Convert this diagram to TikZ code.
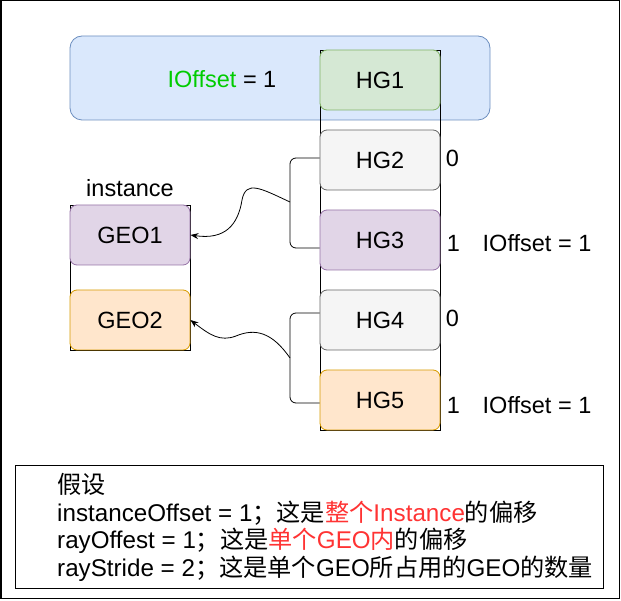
\documentclass[tikz,border=0pt]{standalone}
\usepackage{fontspec}
\setmainfont{Liberation Sans}
\newfontfamily\cjk{Noto Sans CJK SC}
\usetikzlibrary{arrows.meta}
\definecolor{bluefill}{HTML}{DAE8FC}\definecolor{bluedraw}{HTML}{6C8EBF}
\definecolor{greenfill}{HTML}{D5E8D4}\definecolor{greendraw}{HTML}{82B366}
\definecolor{greyfill}{HTML}{F5F5F5}\definecolor{greydraw}{HTML}{666666}
\definecolor{purplefill}{HTML}{E1D5E7}\definecolor{purpledraw}{HTML}{9673A6}
\definecolor{orangefill}{HTML}{FFE6CC}\definecolor{orangedraw}{HTML}{D79B00}
\definecolor{txtgreen}{HTML}{00CC00}\definecolor{txtred}{HTML}{FF3333}
\begin{document}
\begin{tikzpicture}[x=1pt,y=-1pt,
  every node/.style={font=\fontsize{23.5}{27}\selectfont, inner sep=0pt},
  cell/.style={draw, rounded corners=7pt, minimum width=120pt, minimum height=60pt, line width=0.8pt},
  hgreen/.style={cell, fill=greenfill, draw=greendraw},
  hgrey/.style={cell, fill=greyfill, draw=greydraw},
  hpurple/.style={cell, fill=purplefill, draw=purpledraw},
  horange/.style={cell, fill=orangefill, draw=orangedraw},
  frame/.style={draw=black, line width=0.9pt},
  bracket/.style={draw=black, line width=0.8pt, rounded corners=6pt},
  link/.style={draw=black, line width=0.8pt, -{Stealth[length=8pt,width=6pt]}}
]
\useasboundingbox (0,0) rectangle (621,601);
\draw[line width=1.5pt] (0.75,0.75) rectangle (619.5,598.5);
% top blue container
\node[draw=bluedraw, fill=bluefill, rounded corners=12pt, minimum width=420pt, minimum height=84pt, line width=0.8pt] (cont) at (280,78) {};
\node (lo) at (222,79) {\textcolor{txtgreen}{IOffset} = 1};
% tall column
\node[frame, minimum width=120pt, minimum height=380pt] (col) at (380,240) {};
\node[hgreen] (hg1) at (380,80) {HG1};
\node[hgrey] (hg2) at (380,160) {HG2};
\node[hpurple] (hg3) at (380,240) {HG3};
\node[hgrey] (hg4) at (380,320) {HG4};
\node[horange] (hg5) at (380,400) {HG5};
% instance column
\node[frame, minimum width=120pt, minimum height=145pt] (inst) at (130,277.5) {};
\node (instlbl) at (130,188) {instance};
\node[hpurple] (geo1) at (130,235) {GEO1};
\node[horange] (geo2) at (130,320) {GEO2};
% side labels
\node (z1) at (452.5,158) {0};
\node (o1) at (453.5,243) {1};
\node (l1) at (537,243) {IOffset = 1};
\node (z2) at (452.5,318) {0};
\node (o2) at (453.5,405) {1};
\node (l2) at (537,405) {IOffset = 1};
% brackets
\coordinate (b1) at (290,202);
\coordinate (b2) at (290,358);
\draw[bracket] (hg2.west |- 0,158) -- (290,158) -- (290,248) -- (hg3.west |- 0,248);
\draw[bracket] (hg4.west |- 0,313) -- (290,313) -- (290,403) -- (hg5.west |- 0,403);
\draw[link] (b1) .. controls (260,188) and (246,180) .. (242,200) .. controls (238,225) and (225,240) .. (geo1.east);
\draw[link] (b2) .. controls (272,332) and (255,328) .. (236,336) .. controls (220,342) and (210,335) .. (geo2.east);
% bottom note
\node[frame, minimum width=588pt, minimum height=123pt] (note) at (309,526.5) {};
\node[anchor=west, align=left, font=\fontsize{24.2}{27.6}\selectfont] (notetxt) at (57,527.5) {%
{\cjk 假设}\\
instanceOffset = 1{\cjk ；这是\textcolor{txtred}{整个}}\textcolor{txtred}{Instance}{\cjk 的偏移}\\
rayOffest = 1{\cjk ；这是\textcolor{txtred}{单个}}\textcolor{txtred}{GEO}{\cjk\textcolor{txtred}{内}的偏移}\\
rayStride = 2{\cjk ；这是单个}GEO{\cjk 所占用的}GEO{\cjk 的数量}};
\end{tikzpicture}
\end{document}
